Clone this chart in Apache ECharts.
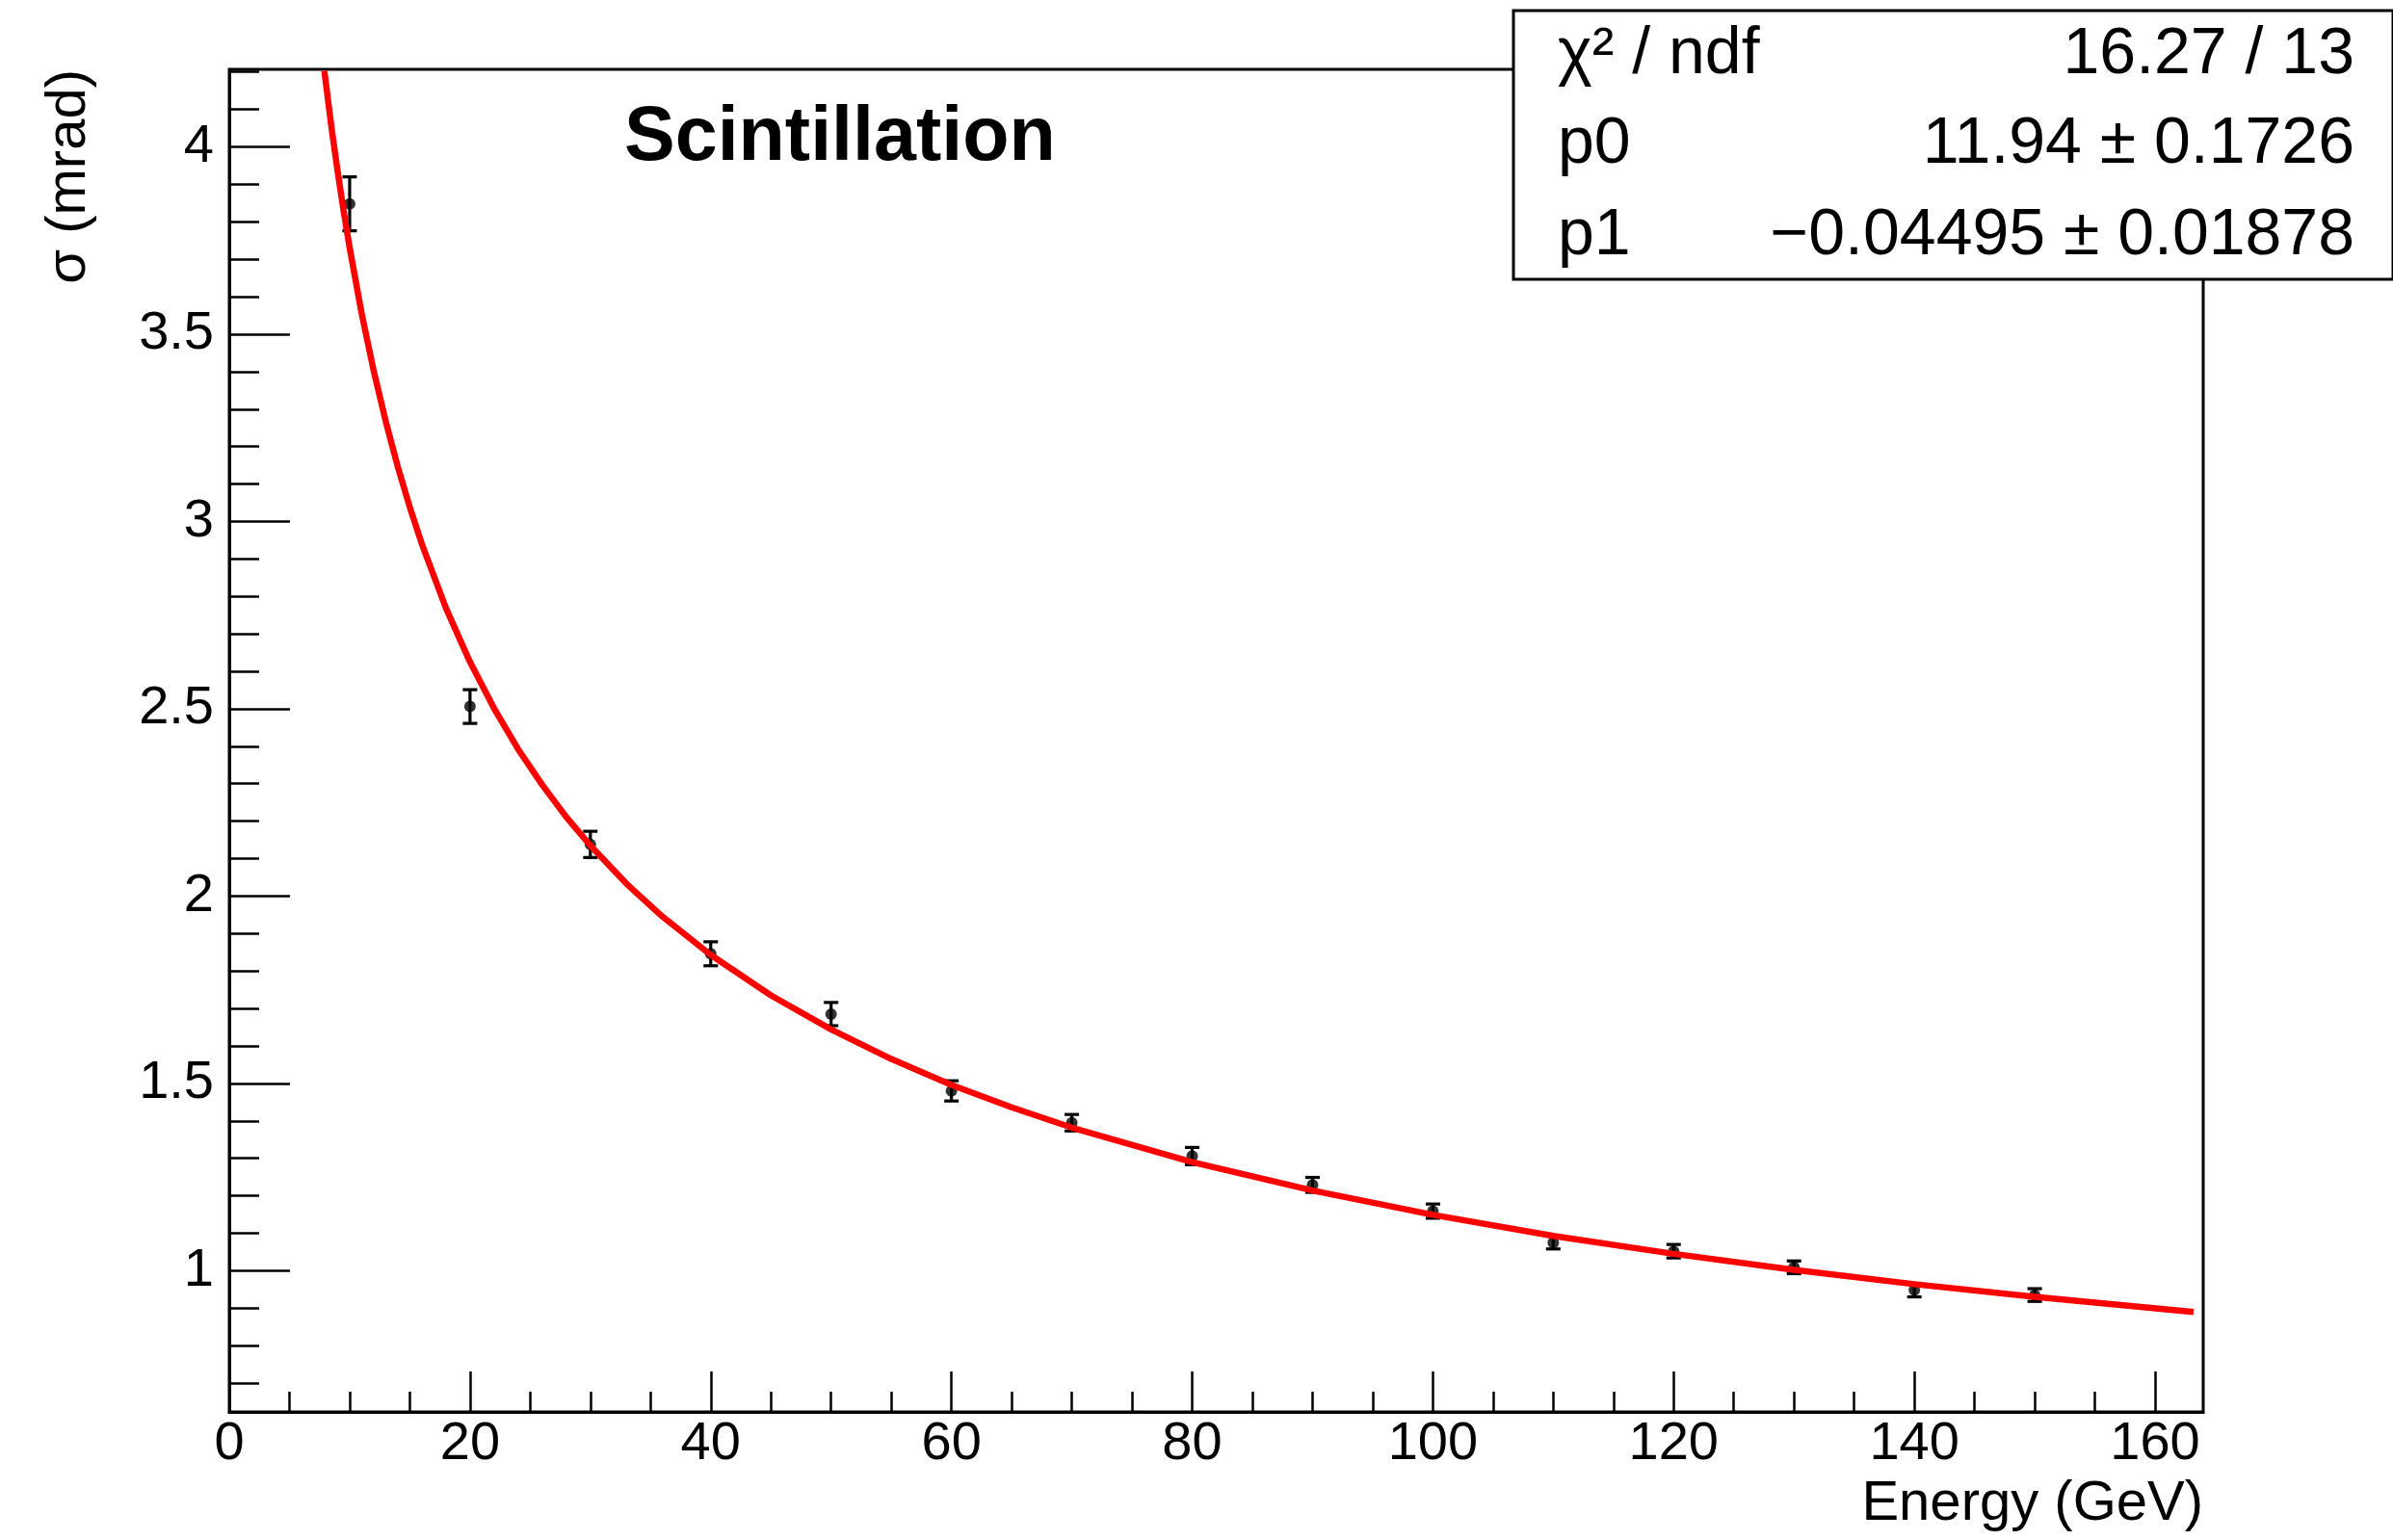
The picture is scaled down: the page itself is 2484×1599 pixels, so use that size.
<!DOCTYPE html>
<html lang="en">
<head>
    <meta charset="UTF-8">
    <title>Scintillation resolution</title>
    <style>
        html,body{margin:0;padding:0;background:#fff}
        #main{width:2484px;height:1599px}
    </style>
    <script src="https://cdn.jsdelivr.net/npm/echarts@6/dist/echarts.min.js"></script>
</head>
<body>
<div id="main"></div>
<script>
    // measured points (GeV, mrad) and their errors
    var energy = [10, 20, 30, 40, 50, 60, 70, 80, 90, 100, 110, 120, 130, 140, 150];
    var sigma = [3.848, 2.506, 2.138, 1.846, 1.685, 1.480, 1.395, 1.306, 1.229, 1.159, 1.075, 1.052, 1.009, 0.948, 0.935];
    var sigmaErr = [0.072, 0.045, 0.035, 0.032, 0.031, 0.027, 0.022, 0.023, 0.020, 0.019, 0.017, 0.018, 0.017, 0.018, 0.017];

    // red fit curve
    var curveE = [7.9, 8.5, 9, 9.5, 10, 11, 12, 13, 14, 15, 16, 18, 20, 22, 24, 26, 28, 30, 33, 36, 40, 45, 50, 55, 60, 65, 70, 80, 90, 100, 110, 120, 130, 140, 150, 163.2];
    var curveSigma = [4.203, 4.050, 3.935, 3.829, 3.731, 3.555, 3.402, 3.267, 3.146, 3.038, 2.940, 2.769, 2.625, 2.501, 2.392, 2.297, 2.211, 2.135, 2.033, 1.945, 1.843, 1.735, 1.644, 1.565, 1.496, 1.436, 1.382, 1.290, 1.214, 1.149, 1.093, 1.045, 1.002, 0.964, 0.930, 0.890];

    // axis ticks
    var xMajor = [0, 20, 40, 60, 80, 100, 120, 140, 160];
    var xMinor = [5, 10, 15, 25, 30, 35, 45, 50, 55, 65, 70, 75, 85, 90, 95, 105, 110, 115, 125, 130, 135, 145, 150, 155];
    var yMajor = [1, 1.5, 2, 2.5, 3, 3.5, 4];
    var yMinor = [0.7, 0.8, 0.9, 1.1, 1.2, 1.3, 1.4, 1.6, 1.7, 1.8, 1.9, 2.1, 2.2, 2.3, 2.4, 2.6, 2.7, 2.8, 2.9, 3.1, 3.2, 3.3, 3.4, 3.6, 3.7, 3.8, 3.9, 4.1, 4.2];

    var statNames = ['χ² / ndf', 'p0', 'p1'];
    var statValues = ['16.27 / 13', '11.94 ± 0.1726', '−0.04495 ± 0.01878'];

    var FONT = '"Liberation Sans", Arial, Helvetica, sans-serif';
    var xMin = 0, xMax = 164, yMin = 0.623, yMax = 4.207;

    var points = [], bars = [], curve = [];
    for (var i = 0; i < energy.length; i++) {
        points.push([energy[i], sigma[i]]);
        bars.push([energy[i], sigma[i], sigmaErr[i]]);
    }
    for (var j = 0; j < curveE.length; j++) {
        curve.push([curveE[j], curveSigma[j]]);
    }

    var graphics = [
        {type: 'text', x: 648, y: 144, z: 50,
            style: {text: 'Scintillation', font: 'bold 79px ' + FONT, fill: '#000', align: 'left', verticalAlign: 'middle'}},
        {type: 'text', x: 2287, y: 1562, z: 50,
            style: {text: 'Energy (GeV)', font: '58px ' + FONT, fill: '#000', align: 'right', verticalAlign: 'middle'}},
        {type: 'text', x: 72, y: 72, rotation: Math.PI / 2, z: 50,
            style: {text: 'σ (mrad)', font: '58px ' + FONT, fill: '#000', align: 'right', verticalAlign: 'middle'}},
        {type: 'rect', z: 60, shape: {x: 1571, y: 11, width: 913, height: 279},
            style: {fill: '#fff', stroke: '#000', lineWidth: 3}}
    ];
    var rowY = [57, 150, 245];
    for (var k = 0; k < statNames.length; k++) {
        graphics.push({type: 'text', x: 1617, y: rowY[k], z: 70,
            style: {text: statNames[k], font: '68px ' + FONT, fill: '#000', align: 'left', verticalAlign: 'middle'}});
        graphics.push({type: 'text', x: 2444, y: rowY[k], z: 70,
            style: {text: statValues[k], font: '68px ' + FONT, fill: '#000', align: 'right', verticalAlign: 'middle'}});
    }

    var chart = echarts.init(document.getElementById('main'));
    chart.setOption({
        animation: false,
        backgroundColor: '#fff',
        grid: {left: 238, right: 197, top: 72, bottom: 133, show: true, borderColor: '#000', borderWidth: 3},
        xAxis: [{
            type: 'value', min: xMin, max: xMax,
            axisLine: {show: true, onZero: false, lineStyle: {color: '#000', width: 3}},
            axisTick: {show: true, inside: true, length: 42, customValues: xMajor, lineStyle: {color: '#000', width: 2.5}},
            axisLabel: {show: true, customValues: xMajor, fontSize: 56, fontFamily: FONT, color: '#000', margin: 6},
            splitLine: {show: false}
        }, {
            type: 'value', min: xMin, max: xMax, position: 'bottom',
            axisLine: {show: false},
            axisTick: {show: true, inside: true, length: 21, customValues: xMinor, lineStyle: {color: '#000', width: 2.5}},
            axisLabel: {show: false},
            splitLine: {show: false}
        }],
        yAxis: [{
            type: 'value', min: yMin, max: yMax,
            axisLine: {show: true, onZero: false, lineStyle: {color: '#000', width: 3}},
            axisTick: {show: true, inside: true, length: 63, customValues: yMajor, lineStyle: {color: '#000', width: 2.5}},
            axisLabel: {show: true, customValues: yMajor, fontSize: 56, fontFamily: FONT, color: '#000', margin: 16},
            splitLine: {show: false}
        }, {
            type: 'value', min: yMin, max: yMax, position: 'left',
            axisLine: {show: false},
            axisTick: {show: true, inside: true, length: 31, customValues: yMinor, lineStyle: {color: '#000', width: 2.5}},
            axisLabel: {show: false},
            splitLine: {show: false}
        }],
        series: [{
            type: 'custom',
            z: 3,
            data: bars,
            encode: {x: 0, y: 1},
            renderItem: function (params, api) {
                var x = api.value(0), y = api.value(1), e = api.value(2);
                var top = api.coord([x, y + e]);
                var bot = api.coord([x, y - e]);
                var st = {stroke: '#000', lineWidth: 3.2};
                return {
                    type: 'group',
                    children: [
                        {type: 'line', shape: {x1: top[0], y1: top[1], x2: bot[0], y2: bot[1]}, style: st},
                        {type: 'line', shape: {x1: top[0] - 7.5, y1: top[1], x2: top[0] + 7.5, y2: top[1]}, style: st},
                        {type: 'line', shape: {x1: bot[0] - 7.5, y1: bot[1], x2: bot[0] + 7.5, y2: bot[1]}, style: st}
                    ]
                };
            }
        }, {
            type: 'scatter',
            z: 3,
            data: points,
            symbol: 'circle',
            symbolSize: 12,
            itemStyle: {color: '#000'}
        }, {
            type: 'line',
            z: 5,
            data: curve,
            showSymbol: false,
            smooth: false,
            lineStyle: {color: '#ff0000', width: 6.5, join: 'round'}
        }],
        graphic: graphics
    });
</script>
</body>
</html>
